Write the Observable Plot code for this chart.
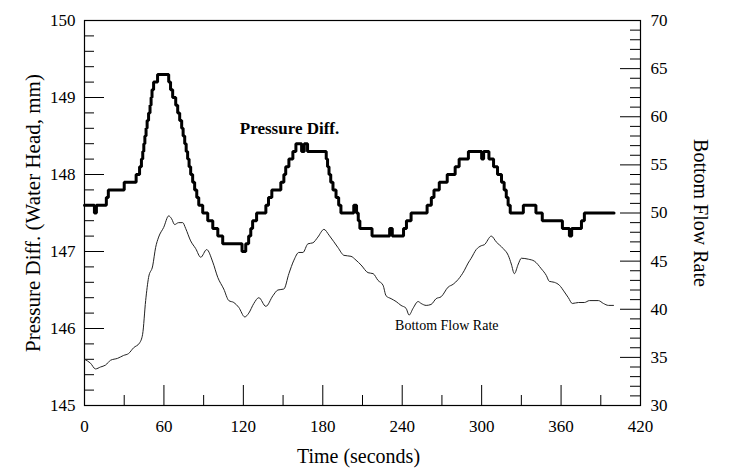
<!DOCTYPE html>
<html>
<head>
<meta charset="utf-8">
<script src="https://cdn.jsdelivr.net/npm/d3@7"></script>
<script src="https://cdn.jsdelivr.net/npm/@observablehq/plot@0.6"></script>
<style>
  html, body { margin: 0; padding: 0; background: #fff; }
  #chart { width: 730px; height: 476px; }
</style>
</head>
<body>
<div id="chart"></div>
<script>
// ---- data ----
const pressureTime = [0, 7.5, 9, 16.5, 18, 30, 39, 41.6, 43, 44, 44.8, 45.6, 46.5, 47.3, 48.4, 49.5, 50.3, 51, 52.2, 55.2,
  63.6, 65, 66.6, 68.9, 70.4, 71.9, 73.4, 74.5, 75.7, 76.8, 77.9, 79, 80.2, 81.7, 83.2, 84.8, 86.3, 89.3, 93.1, 96.9, 100.7, 104.4,
  119, 121.8, 124, 125.6, 127, 130, 137, 139, 141.5, 148.3, 150.6, 152, 154.4, 157.4, 159.7, 164, 166, 168.5,
  182.6, 183.6, 184.7, 186, 187.7, 190, 192, 193.7, 203.4, 205.5, 206.8, 208, 217.2, 230.5, 232.5, 241, 243.2, 246.7, 249,
  258.8, 262, 264, 268, 274, 280, 283, 290, 300, 301.5, 305.5, 309, 312, 315, 317, 318.6, 320, 321.6, 331.5, 341, 345.8,
  361, 366.3, 368, 375.4, 377.6, 400];
const pressureValue = [147.6, 147.5, 147.6, 147.7, 147.8, 147.9, 148.0, 148.1, 148.2, 148.3, 148.4, 148.5, 148.6, 148.7, 148.8, 148.9, 149.0, 149.1, 149.2, 149.3,
  149.2, 149.1, 149.0, 148.9, 148.8, 148.7, 148.6, 148.5, 148.4, 148.3, 148.2, 148.1, 148.0, 147.9, 147.8, 147.7, 147.6, 147.5, 147.4, 147.3, 147.2, 147.1,
  147.0, 147.1, 147.2, 147.3, 147.4, 147.5, 147.6, 147.7, 147.8, 147.9, 148.0, 148.1, 148.2, 148.3, 148.4, 148.3, 148.4, 148.3,
  148.2, 148.1, 148.0, 147.9, 147.8, 147.7, 147.6, 147.5, 147.6, 147.5, 147.4, 147.3, 147.2, 147.3, 147.2, 147.3, 147.4, 147.5, 147.5,
  147.6, 147.7, 147.8, 147.9, 148.0, 148.1, 148.2, 148.3, 148.2, 148.3, 148.2, 148.1, 148.0, 147.9, 147.8, 147.7, 147.6, 147.5, 147.6, 147.5, 147.4,
  147.3, 147.2, 147.3, 147.4, 147.5, 147.5];

const flowTime = [0, 4.5, 8.3, 12.1, 15.9, 19.7, 25, 29.5, 33.3, 37.1, 41.6, 43.9, 46.2, 48.4, 51.5, 53.7, 56, 59.8, 63.6, 65.8,
  68.1, 71.1, 74.2, 76.4, 80.2, 84, 87.8, 92.3, 96.9, 100.7, 105.2, 109, 112.8, 116.5, 121.1, 124.1, 127.9, 131.7, 137, 142.3,
  146.1, 150.6, 154.4, 158.2, 161.9, 165, 168.8, 172.5, 176.3, 180.9, 184.7, 191.5, 196, 201.3, 205.1, 208.9, 214.2, 218, 221.7, 225.5,
  227.8, 231.6, 235.4, 239.1, 242.9, 245.2, 248.2, 252, 254.3, 258.1, 261.8, 265.6, 269.4, 274.7, 278.5, 282.3, 286.8, 289.8, 292.1, 295.9,
  299.7, 302, 307.3, 311, 316.3, 320.1, 322.4, 324.7, 327.7, 330, 335.3, 339.8, 345.1, 348.9, 351.1, 354.9, 358.7, 362.5, 365.5, 368.5,
  373.1, 377.6, 381.4, 388.2, 392, 395.8, 399.6];
const flowValue = [34.8, 34.4, 33.8, 34.0, 34.2, 34.7, 34.9, 35.2, 35.4, 36.0, 36.5, 37.4, 40.9, 43.3, 44.5, 46.4, 47.5, 48.5, 49.7, 49.4,
  48.8, 49.0, 49.0, 48.4, 47.1, 46.3, 45.4, 46.2, 44.9, 43.3, 42.1, 40.9, 40.7, 40.2, 39.2, 39.6, 40.6, 41.2, 40.3, 41.4,
  42.0, 42.1, 43.7, 45.1, 45.9, 45.9, 46.8, 46.9, 47.5, 48.3, 47.7, 46.4, 45.6, 45.5, 45.1, 44.6, 43.8, 43.7, 43.0, 42.5,
  41.4, 41.1, 40.8, 40.4, 40.1, 39.4, 40.1, 40.8, 40.6, 40.4, 40.5, 41.1, 41.3, 42.3, 42.6, 43.1, 44.0, 44.8, 45.3, 46.2,
  46.6, 46.7, 47.6, 47.0, 46.3, 45.6, 44.7, 43.7, 44.7, 45.3, 45.2, 45.0, 44.2, 43.5, 42.9, 42.8, 42.5, 41.8, 41.2, 40.6,
  40.7, 40.7, 40.9, 40.9, 40.6, 40.4, 40.4];

const xTicks = [0, 60, 120, 180, 240, 300, 360, 420];
const xMinorTicks = [30, 90, 150, 210, 270, 330, 390];
const leftTicks = [145, 146, 147, 148, 149, 150];
const rightTicks = [30, 35, 40, 45, 50, 55, 60, 65, 70];

const leftTitle = "Pressure Diff. (Water Head, mm)";
const rightTitle = "Bottom Flow Rate";
const xTitle = "Time (seconds)";
const pressureLabel = [{text: "Pressure Diff.", t: 117.3, v: 148.52}];
const flowLabel = [{text: "Bottom Flow Rate", t: 234.6, v: 37.8}];

// ---- derived ----
const flowMin = 30, flowMax = 70, pMin = 145, pMax = 150;
const flowToP = f => pMin + (f - flowMin) * (pMax - pMin) / (flowMax - flowMin);
const pToFlow = p => flowMin + (p - pMin) * (flowMax - flowMin) / (pMax - pMin);

const pressure = pressureTime.map((t, i) => ({t, v: pressureValue[i]}));
const flow = flowTime.map((t, i) => ({t, v: flowValue[i]}));

const leftMinor = d3.range(145, 150.001, 0.2).map(v => Math.round(v * 10) / 10).filter(v => !leftTicks.includes(v));
const rightMinor = d3.range(30, 70.001, 1).filter(v => !rightTicks.includes(v));

const W = 730, H = 476, mL = 84, mR = 90, mT = 20, mB = 71;
const innerW = W - mL - mR, innerH = H - mT - mB;

const chart = Plot.plot({
  width: W, height: H,
  marginLeft: mL, marginRight: mR, marginTop: mT, marginBottom: mB,
  style: {fontFamily: "'Liberation Serif', 'Times New Roman', serif", fontSize: "17px", color: "#000", background: "#fff"},
  x: {domain: [0, 420]},
  y: {domain: [pMin, pMax]},
  marks: [
    Plot.frame({stroke: "#000", strokeWidth: 1.2}),
    // inward ticks
    Plot.tickY(leftTicks, {y: d => d, insetRight: innerW - 20, stroke: "#000"}),
    Plot.tickY(leftMinor, {y: d => d, insetRight: innerW - 10, stroke: "#000"}),
    Plot.tickY(rightTicks, {y: d => flowToP(d), insetLeft: innerW - 20, stroke: "#000"}),
    Plot.tickY(rightMinor, {y: d => flowToP(d), insetLeft: innerW - 10, stroke: "#000"}),
    Plot.tickX(xTicks, {x: d => d, insetTop: innerH - 20, stroke: "#000"}),
    Plot.tickX(xMinorTicks, {x: d => d, insetTop: innerH - 10, stroke: "#000"}),
    // axes labels
    Plot.axisY(leftTicks, {anchor: "left", label: null, tickSize: 0, tickPadding: 9, fontSize: 17, tickFormat: d => String(d)}),
    Plot.axisY(rightTicks.map(flowToP), {anchor: "right", label: null, tickSize: 0, tickPadding: 10, fontSize: 17,
      tickFormat: p => String(Math.round(pToFlow(p)))}),
    Plot.axisX(xTicks, {anchor: "bottom", label: null, tickSize: 0, tickPadding: 14, fontSize: 17, tickFormat: d => String(d)}),
    // titles
    Plot.text([leftTitle], {frameAnchor: "left", textAnchor: "middle", dx: -51, rotate: -90, fontSize: 21, fill: "#000"}),
    Plot.text([rightTitle], {frameAnchor: "right", textAnchor: "middle", dx: 60, rotate: 90, fontSize: 20, fill: "#000"}),
    Plot.text([xTitle], {frameAnchor: "bottom", dy: 57, dx: -4, fontSize: 20, fill: "#000"}),
    // data
    Plot.line(flow, {x: "t", y: d => flowToP(d.v), stroke: "#222", strokeWidth: 1, curve: "monotone-x"}),
    Plot.line(pressure, {x: "t", y: "v", stroke: "#000", strokeWidth: 3, curve: "step-after", strokeLinejoin: "miter"}),
    // annotations
    Plot.text(pressureLabel, {x: "t", y: "v", text: "text", textAnchor: "start", lineAnchor: "bottom",
      fontWeight: "bold", fontSize: 17, fill: "#000"}),
    Plot.text(flowLabel, {x: "t", y: d => flowToP(d.v), text: "text", textAnchor: "start", lineAnchor: "bottom",
      fontSize: 14, fill: "#000"})
  ]
});
document.getElementById("chart").appendChild(chart);
</script>
</body>
</html>
